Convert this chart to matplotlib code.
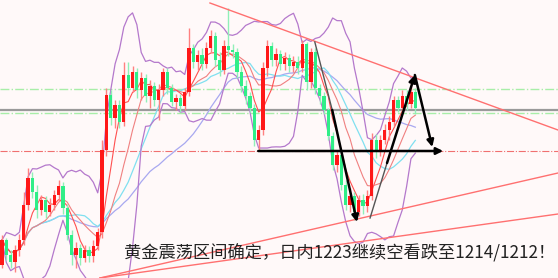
import numpy as np
import pandas as pd
import matplotlib
matplotlib.use("Agg")
import matplotlib.pyplot as plt

# gold price candles
first_open = 1207.5
closes = [1210.0, 1208.5, 1207.8, 1209.0, 1210.0, 1213.5, 1216.2, 1214.8, 1213.0, 1214.0,
          1212.8, 1213.5, 1214.5, 1215.4, 1213.2, 1210.5, 1208.5, 1209.2, 1208.2, 1209.0,
          1208.4, 1209.4, 1210.8, 1219.0, 1224.5, 1222.2, 1223.5, 1221.8, 1226.5, 1225.2,
          1226.8, 1225.0, 1226.2, 1224.4, 1225.4, 1224.0, 1225.0, 1226.8, 1225.2, 1223.8,
          1224.2, 1223.4, 1224.8, 1229.2, 1227.8, 1228.5, 1227.6, 1229.2, 1230.4, 1228.0,
          1227.0, 1229.4, 1229.0, 1228.8, 1226.8, 1225.4, 1224.4, 1223.2, 1220.0, 1221.0,
          1227.2, 1229.4, 1228.0, 1228.6, 1227.6, 1228.2, 1227.4, 1227.8, 1227.2, 1229.6,
          1225.8, 1228.8, 1225.2, 1224.4, 1223.0, 1220.4, 1217.5, 1218.5, 1215.5, 1213.5,
          1214.4, 1212.8, 1214.0, 1213.4, 1214.4, 1220.0, 1218.8, 1220.0, 1221.0, 1221.8,
          1224.0, 1223.2, 1224.4, 1223.6, 1224.8, 1223.2]
highs = [1210.5, 1210.2, 1209.0, 1209.5, 1210.6, 1214.8, 1217.2, 1216.8, 1215.5, 1214.5,
         1214.4, 1214.2, 1215.0, 1216.0, 1215.8, 1213.6, 1211.0, 1209.8, 1209.6, 1209.5,
         1209.4, 1210.0, 1211.2, 1220.0, 1225.2, 1225.0, 1224.0, 1224.0, 1227.8, 1227.8,
         1227.4, 1227.2, 1226.8, 1226.6, 1226.0, 1225.8, 1225.6, 1227.2, 1227.2, 1225.6,
         1224.6, 1224.6, 1225.2, 1231.2, 1229.6, 1229.0, 1229.2, 1229.8, 1231.0, 1230.8,
         1228.8, 1230.0, 1233.2, 1229.6, 1229.2, 1227.4, 1226.0, 1224.8, 1223.6, 1221.5,
         1227.8, 1230.0, 1229.8, 1229.2, 1229.0, 1228.8, 1228.6, 1228.4, 1228.4, 1230.0,
         1229.8, 1229.2, 1229.2, 1225.6, 1224.8, 1223.2, 1220.8, 1219.0, 1218.8, 1216.0,
         1215.2, 1214.8, 1214.5, 1214.6, 1215.0, 1220.7, 1220.6, 1220.5, 1221.6, 1222.4,
         1224.4, 1224.4, 1225.0, 1225.0, 1225.7, 1225.2]
lows = [1207.2, 1208.0, 1207.2, 1206.8, 1208.4, 1209.5, 1213.0, 1214.2, 1212.2, 1212.5,
        1212.2, 1212.4, 1213.0, 1214.0, 1212.6, 1210.0, 1207.5, 1207.2, 1207.5, 1207.8,
        1207.8, 1207.8, 1209.0, 1210.2, 1218.4, 1221.5, 1221.2, 1221.2, 1221.4, 1224.5,
        1224.8, 1224.2, 1224.0, 1223.8, 1223.2, 1223.4, 1222.0, 1224.4, 1224.6, 1223.4,
        1223.0, 1222.8, 1223.0, 1224.4, 1227.2, 1227.0, 1227.0, 1227.2, 1228.8, 1227.4,
        1226.4, 1226.6, 1228.4, 1228.2, 1226.2, 1224.8, 1223.6, 1222.8, 1219.4, 1219.0,
        1220.5, 1226.4, 1227.4, 1227.4, 1227.0, 1227.0, 1226.8, 1226.8, 1226.6, 1226.8,
        1225.0, 1225.2, 1224.6, 1223.6, 1222.6, 1220.0, 1217.0, 1216.8, 1215.0, 1213.0,
        1212.8, 1212.0, 1212.4, 1212.6, 1212.8, 1214.0, 1218.2, 1218.4, 1219.6, 1220.0,
        1221.4, 1222.8, 1222.8, 1223.0, 1223.2, 1222.6]

# horizontal levels
green_levels = [1225.1, 1222.7]
gray_level = 1223.0
red_level = 1218.9

# triangle lines (bar index, price)
tri_top = [(47.8, 1233.7), (127.8, 1221.0)]
tri_low_a = [(22.5, 1206.2), (127.8, 1216.7)]
tri_low_b = [(22.5, 1206.2), (127.8, 1212.6)]

# black path drawn on the chart
thin_segs = [[(71.9, 1229.8), (75.9, 1223.0)], [(84.6, 1212.2), (88.5, 1217.7)]]
arrows = [[(75.9, 1223.0), (81.6, 1211.8)],
          [(88.5, 1217.7), (94.9, 1226.5)],
          [(94.9, 1226.5), (98.9, 1219.3)],
          [(58.9, 1218.9), (101.4, 1218.9)]]

title = "黄金震荡区间确定，日内1223继续空看跌至1214/1212！"

opens = [first_open] + closes[:-1]
idx = np.arange(len(closes))
c = pd.Series(closes)

ma5 = c.rolling(5, min_periods=1).mean()
ma10 = c.rolling(10, min_periods=1).mean()
ma15 = c.rolling(15, min_periods=1).mean()
ma30 = c.rolling(30, min_periods=1).mean()
sd10 = c.rolling(10, min_periods=1).std(ddof=0)
bb_up = ma10 + 2 * sd10
bb_dn = ma10 - 2 * sd10

fig = plt.figure(figsize=(5.58, 2.78), dpi=100)
fig.patch.set_facecolor("#fff9f9")
ax = fig.add_axes([0, 0, 1, 1])
ax.set_facecolor("#fff9f9")
ax.set_xlim(-0.46, 127.8)
ax.set_ylim(1206.2, 1234.0)
ax.axis("off")

for lv in green_levels:
    ax.axhline(lv, color="#a8eea8", lw=1, ls="-.", zorder=1)
ax.axhline(gray_level, color="#9a9a9a", lw=1.6, zorder=1)
ax.axhline(red_level, color="#f07070", lw=0.8, ls="-.", zorder=1)

# indicators
ax.plot(idx, ma30, color="#a8a8f0", lw=0.9, zorder=2)
ax.plot(idx, ma15, color="#80e0f0", lw=0.9, zorder=2)
ax.plot(idx, bb_up, color="#b478cc", lw=0.9, zorder=2)
ax.plot(idx, bb_dn, color="#b478cc", lw=0.9, zorder=2)
ax.plot(idx, ma10, color="#f08080", lw=0.8, zorder=2)
ax.plot(idx, ma5, color="#ff5050", lw=0.8, zorder=2)

# candles: red = up, green = down
up = np.array(closes) >= np.array(opens)
wick_col = np.where(up, "#ff8080", "#90f0b8")
body_col = np.where(up, "#ff1818", "#30ee88")
ax.vlines(idx, lows, highs, colors=wick_col, lw=1, zorder=3)
bottoms = np.minimum(opens, closes)
heights = np.maximum(np.abs(np.array(closes) - np.array(opens)), 0.15)
ax.bar(idx, heights, bottom=bottoms, width=0.75, color=body_col, zorder=4)

for seg in [tri_top, tri_low_a, tri_low_b]:
    ax.plot([seg[0][0], seg[1][0]], [seg[0][1], seg[1][1]], color="#ff7070", lw=1, zorder=5)

for seg in thin_segs:
    ax.plot([seg[0][0], seg[1][0]], [seg[0][1], seg[1][1]], color="#555555", lw=1, zorder=6)
for a, b in arrows:
    ax.annotate("", xy=b, xytext=a,
                arrowprops=dict(arrowstyle="-|>", color="black", lw=1.8,
                                mutation_scale=10, shrinkA=0, shrinkB=0), zorder=7)

fig.text(124 / 558, 1 - 253 / 278, title, ha="left", va="center", fontsize=12.4,
         color="#222222", family=["Noto Sans CJK SC", "DejaVu Sans"])

fig.savefig("out.png", dpi=100, facecolor=fig.get_facecolor())
